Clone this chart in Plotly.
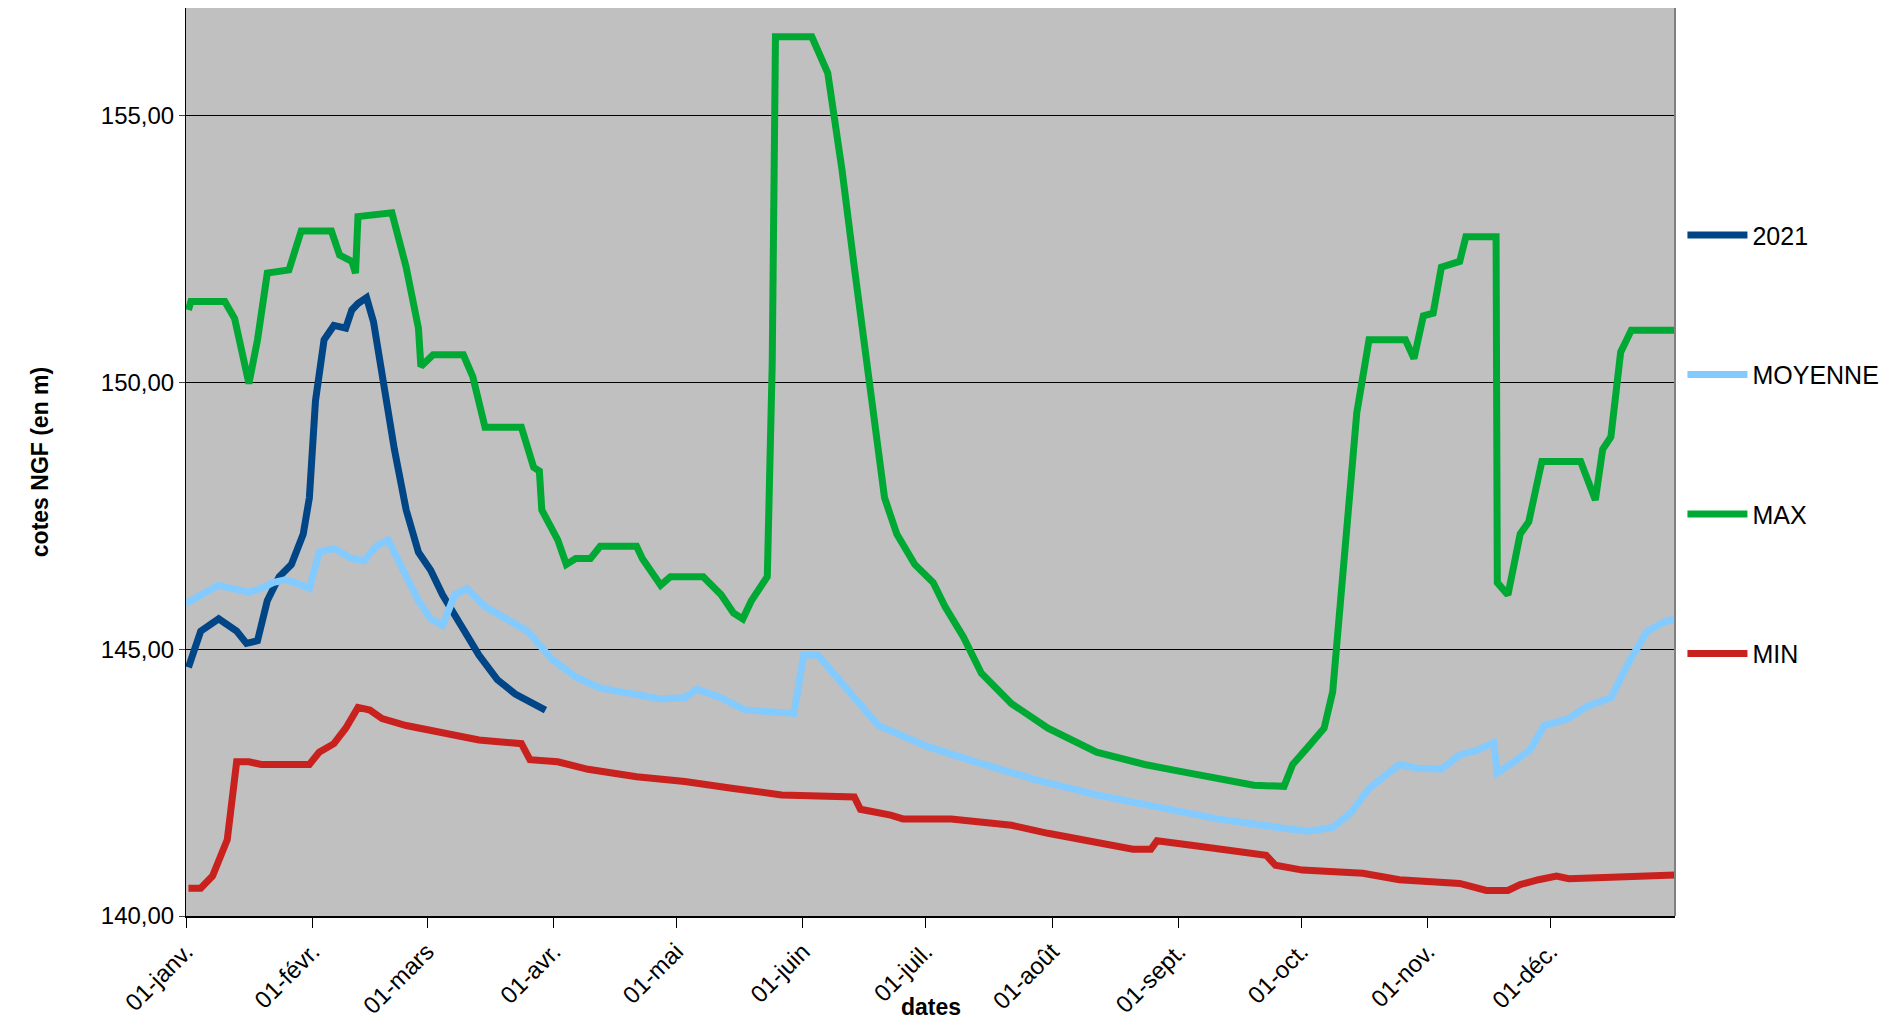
import pandas as pd
import plotly.graph_objects as go

# day of year (0 = 1 Jan) and level in m NGF
max_days = [0.6, 1.2, 9.5, 11.9, 15.4, 17.5, 19.9, 25.2, 28.2, 35.6, 37.6, 40.6, 41.5, 42.1, 50.4, 53.9, 56.9, 57.5,
            60.5, 67.9, 70.2, 73.2, 82.1, 85.1, 86.5, 87.1, 91.0, 93.1, 95.4, 99.0, 101.4, 110.3, 111.7, 116.2, 118.6,
            126.6, 131.0, 134.0, 136.3, 138.4, 142.3, 143.5, 144.3, 153.2, 157.1, 160.6, 163.6, 168.0, 171.0, 174.0,
            178.4, 182.9, 185.8, 190.3, 194.7, 202.1, 211.0, 222.9, 234.7, 242.1, 252.5, 261.4, 268.8, 270.9, 274.8,
            278.6, 280.7, 283.6, 286.6, 289.6, 298.5, 300.6, 302.9, 305.3, 307.3, 311.8, 313.3, 320.7, 321.0, 323.6,
            326.6, 328.7, 331.9, 341.4, 345.0, 346.8, 348.8, 351.2, 353.8, 364.5]
max_vals = [151.36, 151.52, 151.52, 151.20, 149.98, 150.80, 152.05, 152.11, 152.84, 152.84, 152.39, 152.27, 152.05,
            153.11, 153.18, 152.16, 151.02, 150.30, 150.52, 150.52, 150.11, 149.16, 149.16, 148.41, 148.34, 147.61,
            147.05, 146.59, 146.70, 146.70, 146.93, 146.93, 146.70, 146.20, 146.36, 146.36, 146.02, 145.68, 145.57,
            145.91, 146.36, 150.34, 156.48, 156.48, 155.80, 153.98, 152.16, 149.66, 147.84, 147.16, 146.59, 146.25,
            145.80, 145.23, 144.55, 143.98, 143.52, 143.07, 142.84, 142.73, 142.57, 142.45, 142.43, 142.84, 143.18,
            143.52, 144.20, 146.93, 149.43, 150.80, 150.80, 150.45, 151.25, 151.30, 152.16, 152.27, 152.73, 152.73,
            146.25, 146.02, 147.16, 147.39, 148.52, 148.52, 147.80, 148.75, 148.98, 150.57, 150.98, 150.98]

y2021_days = [0.6, 3.6, 8.0, 12.4, 14.8, 17.5, 19.9, 22.8, 25.8, 28.7, 30.2, 31.7, 33.8, 36.2, 39.1, 40.6, 42.1,
              44.2, 45.9, 48.0, 51.0, 53.9, 56.9, 59.9, 62.8, 67.3, 71.7, 76.2, 80.6, 88.0]
y2021_vals = [144.66, 145.34, 145.57, 145.34, 145.11, 145.16, 145.91, 146.36, 146.59, 147.16, 147.84, 149.66, 150.80,
              151.07, 151.02, 151.36, 151.48, 151.59, 151.14, 150.11, 148.75, 147.61, 146.82, 146.48, 146.02, 145.45,
              144.89, 144.43, 144.16, 143.86]

moy_days = [0, 3.6, 8.0, 11.0, 15.4, 18.4, 21.3, 24.3, 26.7, 30.2, 32.6, 36.2, 40.6, 43.6, 46.5, 49.5, 52.5, 56.9,
            59.9, 62.8, 65.8, 68.8, 73.2, 77.7, 83.6, 89.5, 95.4, 101.4, 110.3, 116.2, 122.1, 125.1, 131.0, 136.9,
            148.8, 151.2, 154.7, 157.7, 163.6, 169.5, 181.4, 193.2, 208.1, 222.9, 237.7, 252.5, 267.3, 274.7, 280.7,
            285.1, 289.6, 297.0, 301.5, 307.3, 311.8, 316.2, 320.1, 321.0, 325.1, 329.0, 332.5, 338.5, 342.9, 348.8,
            353.3, 357.7, 362.2, 364.5]
moy_vals = [145.86, 146.02, 146.20, 146.14, 146.07, 146.14, 146.25, 146.30, 146.25, 146.14, 146.82, 146.89, 146.70,
            146.66, 146.93, 147.05, 146.59, 145.91, 145.57, 145.45, 146.02, 146.14, 145.80, 145.61, 145.34, 144.82,
            144.48, 144.27, 144.16, 144.07, 144.09, 144.25, 144.09, 143.86, 143.80, 144.89, 144.89, 144.61, 144.09,
            143.57, 143.18, 142.89, 142.55, 142.27, 142.05, 141.82, 141.66, 141.59, 141.66, 141.93, 142.39, 142.84,
            142.77, 142.75, 143.02, 143.11, 143.25, 142.68, 142.89, 143.11, 143.57, 143.70, 143.93, 144.09, 144.77,
            145.34, 145.52, 145.57]

min_days = [0.6, 3.6, 6.5, 10.1, 12.4, 15.4, 18.4, 30.2, 32.6, 36.2, 39.1, 42.1, 45.0, 48.0, 53.9, 62.8, 71.7, 82.1,
            84.2, 91.0, 98.4, 110.3, 122.1, 134.0, 145.8, 163.6, 165.1, 172.5, 175.5, 187.3, 193.2, 202.1, 211.0,
            222.9, 231.8, 236.2, 237.7, 246.6, 252.5, 264.4, 266.7, 273.3, 288.1, 297.0, 311.8, 318.3, 323.6, 326.6,
            331.1, 335.5, 338.5, 350.3, 353.9, 364.5]
min_vals = [140.52, 140.52, 140.75, 141.43, 142.89, 142.89, 142.84, 142.84, 143.07, 143.23, 143.52, 143.91, 143.86,
            143.70, 143.57, 143.43, 143.30, 143.23, 142.93, 142.89, 142.75, 142.61, 142.52, 142.39, 142.27, 142.23,
            142.00, 141.89, 141.82, 141.82, 141.77, 141.70, 141.55, 141.36, 141.25, 141.25, 141.41, 141.32, 141.27,
            141.14, 140.95, 140.86, 140.80, 140.68, 140.61, 140.48, 140.48, 140.59, 140.68, 140.75, 140.70, 140.73,
            140.77, 140.77]

month_labels = ["01-janv.", "01-févr.", "01-mars", "01-avr.", "01-mai", "01-juin",
                "01-juil.", "01-août", "01-sept.", "01-oct.", "01-nov.", "01-déc."]

start = pd.Timestamp("2021-01-01")


def to_dates(days):
    return [start + pd.Timedelta(days=d) for d in days]


series = [("2021", y2021_days, y2021_vals, "#004586"),
          ("MOYENNE", moy_days, moy_vals, "#83caff"),
          ("MAX", max_days, max_vals, "#00a933"),
          ("MIN", min_days, min_vals, "#c9211e")]

fig = go.Figure()
for i, (name, d, v, col) in enumerate(series):
    fig.add_trace(go.Scatter(x=to_dates(d), y=v, mode="lines", name=name, legendgroup=str(i),
                             line=dict(color=col, width=7)))

month_ticks = pd.date_range("2021-01-01", periods=12, freq="MS")

fig.update_layout(
    width=1903, height=1036,
    margin=dict(l=178, r=236, t=0, b=128),
    plot_bgcolor="#c0c0c0", paper_bgcolor="white",
    font=dict(family="Liberation Sans, Arial", size=24, color="black"),
    separators=", ",
    legend=dict(x=1.005, y=0.775, xanchor="left", yanchor="top", tracegroupgap=104,
                font=dict(size=25), itemwidth=60),
    xaxis=dict(range=[start, start + pd.Timedelta(days=364.5)], tickvals=month_ticks, ticktext=month_labels,
               tickangle=-45, ticks="outside", ticklen=10, tickcolor="black", showgrid=False,
               showline=True, linecolor="black", linewidth=2, mirror=False),
    yaxis=dict(range=[140, 157.02], tickvals=[140, 145, 150, 155], tickformat=".2f",
               showgrid=True, gridcolor="black", gridwidth=1, ticks="outside", ticklen=6,
               showline=True, linecolor="black", linewidth=1, zeroline=False,
               title=dict(text="<b>cotes NGF (en m)</b>", standoff=45, font=dict(size=23))),
)
fig.add_annotation(text="<b>dates</b>", xref="paper", yref="paper", x=0.5, y=-0.1,
                   xanchor="center", yanchor="middle", showarrow=False, font=dict(size=23))
fig.add_shape(type="line", xref="paper", yref="paper", x0=1, x1=1, y0=0, y1=1,
              line=dict(color="#808080", width=2))

fig.write_html("out.html")
